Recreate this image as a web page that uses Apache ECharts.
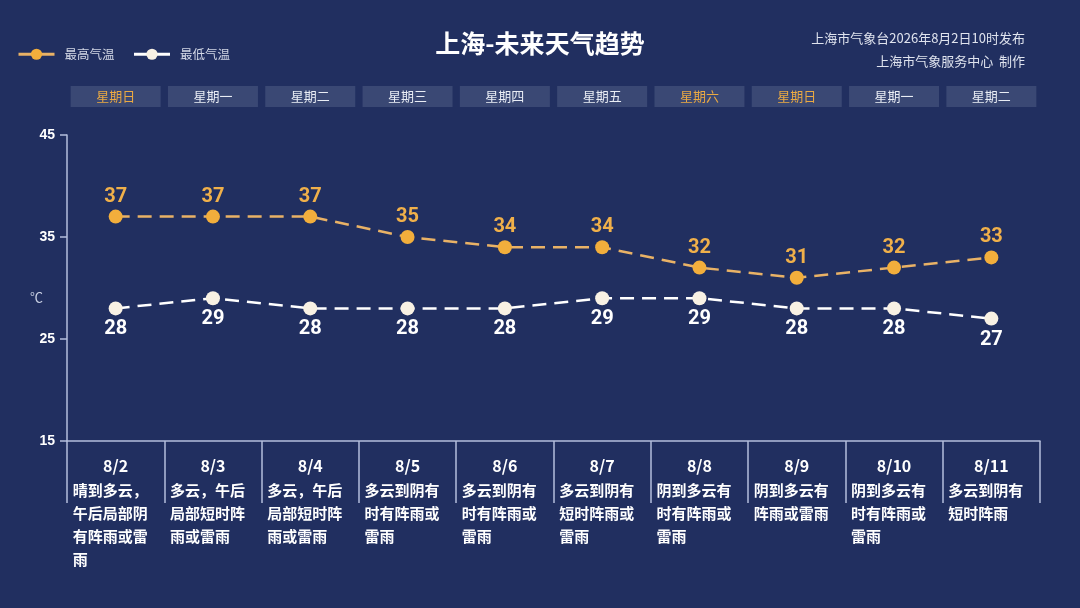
<!DOCTYPE html>
<html>
<head>
<meta charset="utf-8">
<script src="https://cdn.jsdelivr.net/npm/echarts@6/dist/echarts.min.js"></script>
<style>
html,body{margin:0;padding:0;background:#212f60;}
#c{width:1080px;height:608px;}
</style>
</head>
<body>
<div id="c"></div>
<script>
var dates = ['8/2','8/3','8/4','8/5','8/6','8/7','8/8','8/9','8/10','8/11'];
var weekdays = ['星期日','星期一','星期二','星期三','星期四','星期五','星期六','星期日','星期一','星期二'];
var weather = [
  '晴到多云，午后局部阴有阵雨或雷雨',
  '多云，午后局部短时阵雨或雷雨',
  '多云，午后局部短时阵雨或雷雨',
  '多云到阴有时有阵雨或雷雨',
  '多云到阴有时有阵雨或雷雨',
  '多云到阴有短时阵雨或雷雨',
  '阴到多云有时有阵雨或雷雨',
  '阴到多云有阵雨或雷雨',
  '阴到多云有时有阵雨或雷雨',
  '多云到阴有短时阵雨'
];
var highTemp = [37,37,37,35,34,34,32,31,32,33];
var lowTemp = [28,29,28,28,28,29,29,28,28,27];
var yTicks = [15,25,35,45];

var ORANGE = '#f2ae3c';
var WHITE = '#f8f1e4';
var AXIS = '#b4bfdc';

function chunk(s, n){
  var out = [];
  for (var i = 0; i < s.length; i += n) out.push(s.slice(i, i + n));
  return out;
}

var chart = echarts.init(document.getElementById('c'));
chart.setOption({
  backgroundColor: '#212f60',
  title: {
    text: '上海-未来天气趋势',
    left: 'center',
    top: 26,
    textStyle: {color: '#ffffff', fontSize: 25, fontWeight: 'bold', fontFamily: 'Noto Sans CJK SC'}
  },
  legend: {
    left: 12,
    top: 43,
    itemWidth: 36,
    itemHeight: 14,
    itemGap: 18,
    textStyle: {color: '#d3d8e6', fontSize: 12.5, fontFamily: 'Noto Sans CJK SC', padding: [0, 0, 0, 5]},
    lineStyle: {type: 'solid', width: 3},
    data: ['最高气温','最低气温']
  },
  graphic: [
    {type: 'text', right: 55, top: 32, style: {text: '上海市气象台2026年8月2日10时发布', fill: '#dfe3ee', fontSize: 13, fontFamily: 'Noto Sans CJK SC', textAlign: 'right'}},
    {type: 'text', right: 55, top: 55, style: {text: '上海市气象服务中心  制作', fill: '#dfe3ee', fontSize: 13, fontFamily: 'Noto Sans CJK SC', textAlign: 'right'}},
    {type: 'text', left: 30, top: 291, style: {text: '℃', fill: '#c9d0e3', fontSize: 13, fontFamily: 'Noto Sans CJK SC'}}
  ],
  grid: {left: 67, right: 40, top: 135, bottom: 167},
  xAxis: [
    {
      type: 'category',
      data: dates,
      position: 'bottom',
      boundaryGap: true,
      axisLine: {lineStyle: {color: AXIS, width: 1.5}},
      axisTick: {show: true, length: 62, lineStyle: {color: AXIS, width: 1.5}},
      axisLabel: {
        interval: 0,
        margin: 12,
        align: 'center',
        formatter: function(v, i){
          var lines = chunk(weather[i], 5).map(function(l){ return '{t|' + l + '}'; });
          return '{d|' + v + '}\n' + lines.join('\n');
        },
        rich: {
          d: {width: 86, align: 'center', color: '#ffffff', fontSize: 16, fontWeight: 'bold', lineHeight: 26, fontFamily: 'Noto Sans CJK SC'},
          t: {width: 86, align: 'left', color: '#ffffff', fontSize: 15, fontWeight: 'bold', lineHeight: 23, fontFamily: 'Noto Sans CJK SC'}
        }
      }
    },
    {
      type: 'category',
      data: weekdays,
      position: 'top',
      boundaryGap: true,
      axisLine: {show: false},
      axisTick: {show: false},
      axisLabel: {
        interval: 0,
        margin: 28,
        width: 90,
        height: 21,
        lineHeight: 21,
        align: 'center',
        verticalAlign: 'bottom',
        backgroundColor: '#3a4874',
        fontSize: 13,
        fontFamily: 'Noto Sans CJK SC',
        color: function(v, i){ return (v === '星期日' || v === '星期六') ? '#eaa943' : '#e9edf5'; }
      }
    }
  ],
  yAxis: {
    type: 'value',
    min: 15,
    max: 45,
    interval: 10,
    axisLine: {show: true, lineStyle: {color: AXIS, width: 1.5}},
    axisTick: {show: true, length: 7, lineStyle: {color: AXIS, width: 1.5}},
    splitLine: {show: false},
    axisLabel: {
      color: '#ffffff', fontSize: 14, fontWeight: 'bold', margin: 12,
      formatter: function(v){ return yTicks.indexOf(v) >= 0 ? String(v) : ''; }
    }
  },
  series: [
    {
      name: '最高气温',
      type: 'line',
      data: highTemp,
      symbol: 'circle',
      symbolSize: 14,
      itemStyle: {color: ORANGE},
      lineStyle: {color: '#e9b266', width: 2.5, type: [14, 8]},
      label: {show: true, position: 'top', distance: 3, color: '#f0b04a', fontSize: 20, fontWeight: 'bold', fontFamily: 'Roboto'}
    },
    {
      name: '最低气温',
      type: 'line',
      data: lowTemp,
      symbol: 'circle',
      symbolSize: 14,
      itemStyle: {color: WHITE},
      lineStyle: {color: '#ffffff', width: 2.5, type: [14, 8]},
      label: {show: true, position: 'bottom', distance: 4, color: '#ffffff', fontSize: 20, fontWeight: 'bold', fontFamily: 'Roboto'}
    }
  ]
});
</script>
</body>
</html>
